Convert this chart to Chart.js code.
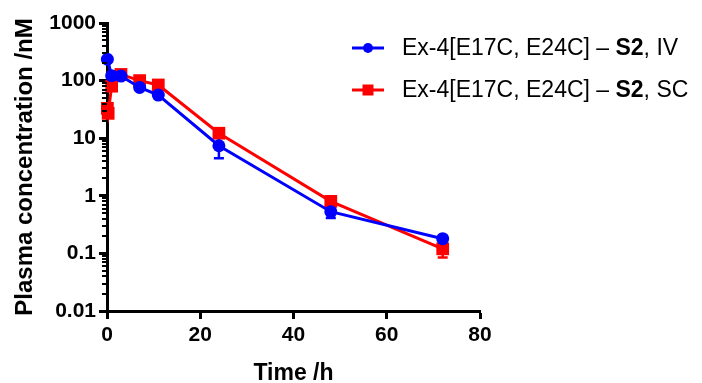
<!DOCTYPE html>
<html>
<head>
<meta charset="utf-8">
<script src="https://cdn.jsdelivr.net/npm/chart.js@4"></script>
<style>
  html, body { margin: 0; padding: 0; background: #fff; }
  #chart { display: block; }
</style>
</head>
<body>
<canvas id="chart" width="702" height="383"></canvas>
<script>
// sampling times (h)
const timesIV = [0.083, 1, 3, 7, 11, 24, 48, 72];
const timesSC = [0.083, 0.25, 1, 3, 7, 11, 24, 48, 72];

// mean plasma concentration (nM) and error (SD)
const concIV = [235, 122, 120, 76, 56, 7.4, 0.53, 0.18];
const errIV = [0, 0, 0, 0, 0, 2.9, 0.12, 0.01];
const concSC = [33, 27, 80, 128, 100, 84, 12.2, 0.8, 0.12];
const errSC = [0, 0, 0, 0, 0, 0, 1.5, 0.15, 0.035];

const xTicks = [0, 20, 40, 60, 80];
const yTicks = [0.01, 0.1, 1, 10, 100, 1000];

const labelIV = ['Ex-4[E17C, E24C] \u2013 ', 'S2', ', IV'];
const labelSC = ['Ex-4[E17C, E24C] \u2013 ', 'S2', ', SC'];

const BLUE = '#0000ff';
const RED = '#ff0000';
const FONT = "'Liberation Sans', Arial, sans-serif";

const toPoints = (xs, ys) => xs.map((x, i) => ({ x: x, y: ys[i] }));

// error bars, drawn under the markers
const errorBars = {
    id: 'errorBars',
    beforeDatasetsDraw(chart) {
        const ctx = chart.ctx;
        const yScale = chart.scales.y;
        chart.data.datasets.forEach((ds, i) => {
            const meta = chart.getDatasetMeta(i);
            ctx.save();
            ctx.strokeStyle = ds.borderColor;
            ctx.lineWidth = 2.5;
            ds.errors.forEach((e, j) => {
                if (!e) return;
                const pt = meta.data[j];
                const v = ds.data[j].y;
                const yTop = yScale.getPixelForValue(v + e);
                const yBot = yScale.getPixelForValue(Math.max(v - e, 0.011));
                ctx.beginPath();
                ctx.moveTo(pt.x, yTop);
                ctx.lineTo(pt.x, yBot);
                ctx.moveTo(pt.x - 5, yTop);
                ctx.lineTo(pt.x + 5, yTop);
                ctx.moveTo(pt.x - 5, yBot);
                ctx.lineTo(pt.x + 5, yBot);
                ctx.stroke();
            });
            ctx.restore();
        });
    }
};

// short minor ticks on the log axis
const minorTicks = {
    id: 'minorTicks',
    afterDraw(chart) {
        const ctx = chart.ctx;
        const yScale = chart.scales.y;
        const x0 = chart.chartArea.left;
        ctx.save();
        ctx.strokeStyle = '#000';
        ctx.lineWidth = 2;
        for (let d = 0; d < yTicks.length - 1; d++) {
            for (let m = 2; m <= 9; m++) {
                const py = Math.round(yScale.getPixelForValue(yTicks[d] * m));
                ctx.beginPath();
                ctx.moveTo(x0 - 5, py);
                ctx.lineTo(x0, py);
                ctx.stroke();
            }
        }
        ctx.restore();
    }
};

// legend with the bold compound name
const richLegend = {
    id: 'richLegend',
    afterDraw(chart) {
        const ctx = chart.ctx;
        const rows = [
            { y: 48, color: BLUE, shape: 'circle', parts: labelIV },
            { y: 90, color: RED, shape: 'square', parts: labelSC }
        ];
        ctx.save();
        rows.forEach(r => {
            ctx.strokeStyle = r.color;
            ctx.fillStyle = r.color;
            ctx.lineWidth = 3;
            ctx.beginPath();
            ctx.moveTo(352, r.y);
            ctx.lineTo(384, r.y);
            ctx.stroke();
            ctx.beginPath();
            if (r.shape === 'circle') {
                ctx.arc(368, r.y, 5, 0, Math.PI * 2);
            } else {
                ctx.rect(362.5, r.y - 5.5, 11, 11);
            }
            ctx.fill();

            ctx.fillStyle = '#000';
            ctx.textBaseline = 'middle';
            let x = 402;
            r.parts.forEach((p, k) => {
                ctx.font = (k === 1 ? 'bold ' : '') + '23px ' + FONT;
                ctx.fillText(p, x, r.y + 1);
                x += ctx.measureText(p).width;
            });
        });
        ctx.restore();
    }
};

const axisGrid = {
    drawOnChartArea: false,
    drawTicks: true,
    tickLength: 8,
    tickWidth: 3,
    tickColor: '#000'
};

new Chart(document.getElementById('chart').getContext('2d'), {
    type: 'scatter',
    data: {
        datasets: [{
            label: 'IV',
            data: toPoints(timesIV, concIV),
            errors: errIV,
            showLine: true,
            clip: false,
            borderColor: BLUE,
            backgroundColor: BLUE,
            borderWidth: 3,
            pointStyle: 'circle',
            pointRadius: 6.5,
            pointBorderWidth: 0,
            tension: 0
        }, {
            label: 'SC',
            data: toPoints(timesSC, concSC),
            errors: errSC,
            showLine: true,
            clip: false,
            borderColor: RED,
            backgroundColor: RED,
            borderWidth: 3,
            pointStyle: 'rect',
            pointRadius: 9,
            pointBorderWidth: 0,
            tension: 0
        }]
    },
    options: {
        responsive: false,
        animation: false,
        layout: { padding: { top: 23, right: 222, left: 0, bottom: 0 } },
        plugins: {
            legend: { display: false },
            tooltip: { enabled: false }
        },
        scales: {
            x: {
                type: 'linear',
                min: 0,
                max: 80,
                afterBuildTicks: scale => { scale.ticks = xTicks.map(v => ({ value: v })); },
                afterFit: scale => { scale.height = 72; },
                border: { display: true, color: '#000', width: 3 },
                grid: axisGrid,
                ticks: {
                    color: '#000',
                    padding: 4,
                    font: { family: FONT, size: 21, weight: 'bold' }
                },
                title: {
                    display: true,
                    text: 'Time /h',
                    color: '#000',
                    padding: { top: 0, bottom: 0 },
                    font: { family: FONT, size: 23, weight: 'bold', lineHeight: 0.8 }
                }
            },
            y: {
                type: 'logarithmic',
                min: 0.01,
                max: 1000,
                afterBuildTicks: scale => { scale.ticks = yTicks.map(v => ({ value: v })); },
                afterFit: scale => { scale.width = 107; },
                border: { display: true, color: '#000', width: 3 },
                grid: axisGrid,
                ticks: {
                    color: '#000',
                    padding: 3,
                    font: { family: FONT, size: 21, weight: 'bold' },
                    callback: v => String(v)
                },
                title: {
                    display: true,
                    text: 'Plasma concentration /nM',
                    color: '#000',
                    padding: { top: 11, bottom: 0 },
                    font: { family: FONT, size: 24, weight: 'bold', lineHeight: 1.2 }
                }
            }
        }
    },
    plugins: [errorBars, minorTicks, richLegend]
});
</script>
</body>
</html>
